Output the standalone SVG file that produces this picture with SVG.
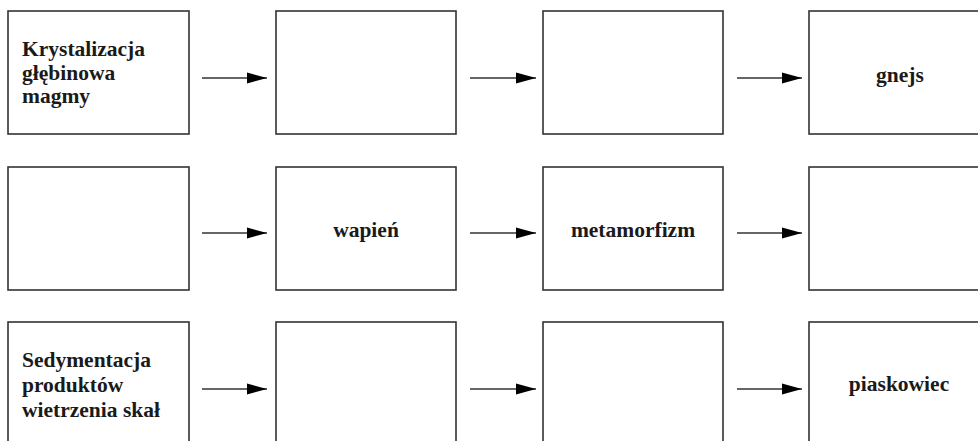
<svg xmlns="http://www.w3.org/2000/svg" width="978" height="441" viewBox="0 0 978 441">
<style>
.box{fill:#fff;stroke:#333;stroke-width:1.6}
.t{font-family:"Liberation Serif","Times New Roman",serif;font-weight:bold;font-size:21.5px;fill:#1a1a1a}
.c{text-anchor:middle}
.ln{stroke:#333;stroke-width:1.6;fill:none}
</style>
<defs>
<marker id="ah" markerWidth="20" markerHeight="12" refX="20" refY="6" orient="auto" markerUnits="userSpaceOnUse">
<path d="M0,0.5 L20,6 L0,11.5 Z" fill="#000"/>
</marker>
</defs>
<rect width="978" height="441" fill="#fff"/>
<g id="r1b1"><rect class="box" x="8" y="11" width="181" height="123"/>
<text class="t" x="22" y="56">Krystalizacja</text>
<text class="t" x="22" y="80">głębinowa</text>
<text class="t" x="22" y="103">magmy</text></g>
<g id="r1b2"><rect class="box" x="276" y="11" width="180" height="123"/></g>
<g id="r1b3"><rect class="box" x="543" y="11" width="180" height="123"/></g>
<g id="r1b4"><rect class="box" x="809" y="11" width="190" height="123"/>
<text class="t c" x="900" y="82">gnejs</text></g>
<g id="r2b1"><rect class="box" x="8" y="167" width="181" height="123"/></g>
<g id="r2b2"><rect class="box" x="276" y="167" width="180" height="123"/>
<text class="t c" x="366" y="237">wapień</text></g>
<g id="r2b3"><rect class="box" x="543" y="167" width="180" height="123"/>
<text class="t c" x="633" y="237">metamorfizm</text></g>
<g id="r2b4"><rect class="box" x="809" y="167" width="190" height="123"/></g>
<g id="r3b1"><rect class="box" x="8" y="322" width="181" height="140"/>
<text class="t" x="22" y="367">Sedymentacja</text>
<text class="t" x="22" y="392">produktów</text>
<text class="t" x="22" y="417">wietrzenia skał</text></g>
<g id="r3b2"><rect class="box" x="276" y="322" width="180" height="140"/></g>
<g id="r3b3"><rect class="box" x="543" y="322" width="180" height="140"/></g>
<g id="r3b4"><rect class="box" x="809" y="322" width="190" height="140"/>
<text class="t c" x="899" y="391">piaskowiec</text></g>
<g id="connectors">
<line class="ln" x1="202" y1="78" x2="267" y2="78" marker-end="url(#ah)"/>
<line class="ln" x1="470" y1="78" x2="536" y2="78" marker-end="url(#ah)"/>
<line class="ln" x1="737" y1="78" x2="802" y2="78" marker-end="url(#ah)"/>
<line class="ln" x1="202" y1="233" x2="267" y2="233" marker-end="url(#ah)"/>
<line class="ln" x1="470" y1="233" x2="536" y2="233" marker-end="url(#ah)"/>
<line class="ln" x1="737" y1="233" x2="802" y2="233" marker-end="url(#ah)"/>
<line class="ln" x1="202" y1="389" x2="267" y2="389" marker-end="url(#ah)"/>
<line class="ln" x1="470" y1="389" x2="536" y2="389" marker-end="url(#ah)"/>
<line class="ln" x1="737" y1="389" x2="802" y2="389" marker-end="url(#ah)"/>
</g>
</svg>
